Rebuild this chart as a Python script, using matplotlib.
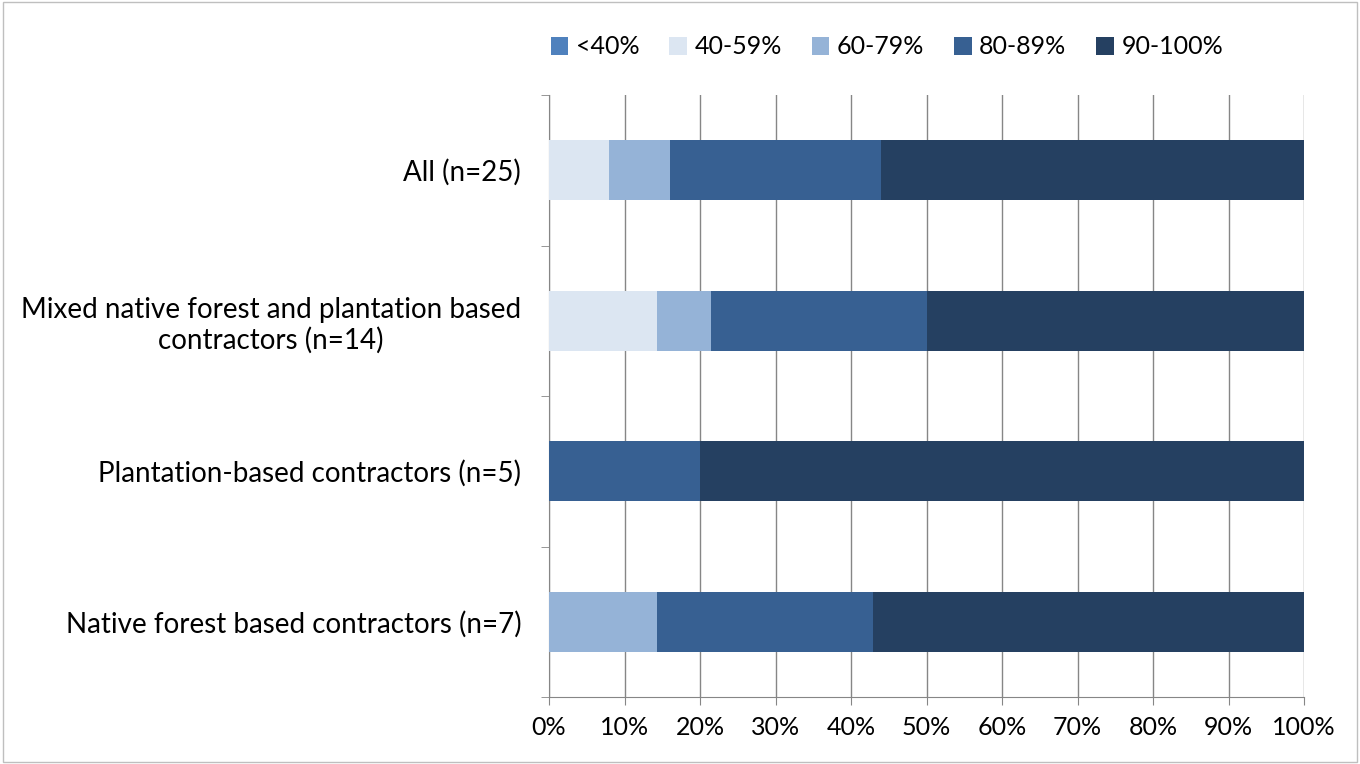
import matplotlib.pyplot as plt
import numpy as np
from matplotlib.ticker import PercentFormatter

# data (share of contractors, %)
categories = ["All (n=25)",
              "Mixed native forest and plantation based\ncontractors (n=14)",
              "Plantation-based contractors (n=5)",
              "Native forest based contractors (n=7)"]
series_names = ["<40%", "40-59%", "60-79%", "80-89%", "90-100%"]
lt40 = [0, 0, 0, 0]
p40_59 = [8, 14.3, 0, 0]
p60_79 = [8, 7.1, 0, 14.3]
p80_89 = [28, 28.6, 20, 28.6]
p90_100 = [56, 50, 80, 57.1]
colors = ["#4F81BD", "#DCE6F2", "#95B3D7", "#376092", "#254061"]

plt.rcParams["font.family"] = ["Lato", "DejaVu Sans"]
plt.rcParams["font.size"] = 17

fig = plt.figure(figsize=(13.6, 7.64), dpi=100)
ax = fig.add_axes([549/1360, 1 - 697/764, (1304 - 549)/1360, (697 - 95)/764])

y = np.arange(len(categories))
left = np.zeros(len(categories))
for name, vals, c in zip(series_names, [lt40, p40_59, p60_79, p80_89, p90_100], colors):
    ax.barh(y, vals, left=left, height=0.4, color=c, label=name, zorder=3)
    left += np.array(vals)

ax.set_ylim(len(categories) - 0.5, -0.5)
ax.set_xlim(0, 100)
ax.set_xticks(np.arange(0, 101, 10))
ax.xaxis.set_major_formatter(PercentFormatter(decimals=0))
ax.set_yticks(y)
ax.set_yticklabels(categories, ha="right", multialignment="center", fontsize=20)
ax.set_yticks(np.arange(-0.5, len(categories), 1), minor=True)
ax.tick_params(axis="y", which="major", length=0, pad=20)
ax.tick_params(axis="y", which="minor", length=6, color="#868686")
ax.tick_params(axis="x", length=6, color="#868686", pad=8, labelsize=18)
ax.grid(axis="x", color="#868686", linewidth=1, zorder=0)
for s in ["top", "right"]:
    ax.spines[s].set_visible(False)
for s in ["left", "bottom"]:
    ax.spines[s].set_color("#868686")

fig.legend(loc="center", bbox_to_anchor=(887/1360, 1 - 47/764), ncol=5, frameon=False,
           handlelength=0.7, handleheight=0.7, handletextpad=0.3, columnspacing=1.2, fontsize=18)

fig.patches.append(plt.Rectangle((0.002, 0.002), 0.996, 0.996, transform=fig.transFigure,
                                 fill=False, edgecolor="#BFBFBF", linewidth=1))

fig.savefig("out.png", dpi=100)
